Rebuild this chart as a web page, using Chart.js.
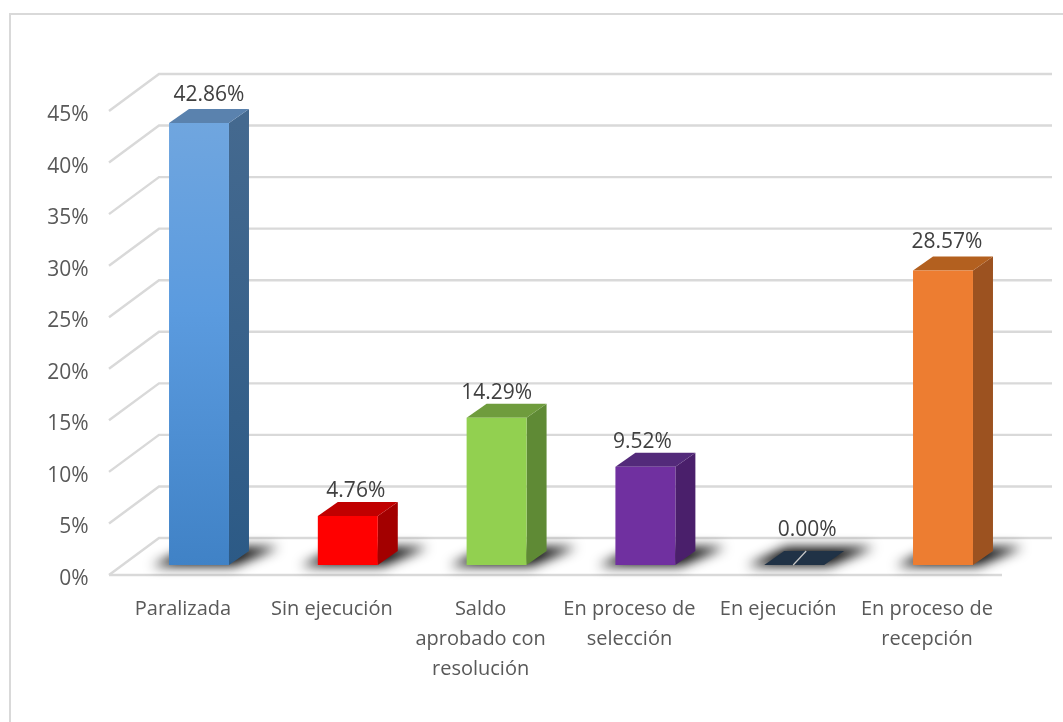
<!DOCTYPE html>
<html><head><meta charset="utf-8">
<style>html,body{margin:0;padding:0;background:#fff}canvas{display:block}</style>
<script src="https://cdn.jsdelivr.net/npm/chart.js@4"></script>
</head><body><canvas id="c" width="1063" height="722"></canvas>
<script>
const categories = ["Paralizada","Sin ejecución",["Saldo","aprobado con","resolución"],["En proceso de","selección"],"En ejecución",["En proceso de","recepción"]];
const values = [42.86,4.76,14.29,9.52,0.00,28.57];
const valueLabels = ["42.86%","4.76%","14.29%","9.52%","0.00%","28.57%"];
const frontTop = ["#72a7df","#ff0000","#92d050","#7030a0","#203246","#ed7d31"];
const frontMid = ["#5b9bdf","#ff0000","#92d050","#7030a0","#203246","#ed7d31"];
const frontBottom = ["#4082c6","#ff0000","#92d050","#7030a0","#203246","#ed7d31"];
const sideTop = ["#44698f","#a30000","#5f8a35","#4a1f6b","#203246","#9c5220"];
const sideBottom = ["#2c5a86","#a30000","#5f8a35","#4a1f6b","#203246","#9c5220"];
const topColors = ["#5a82ae","#c00000","#6f9c3d","#532a7a","#203246","#b3601f"];
const labelNudgeX = [0,-2,-10,-13,3,-6];
const labelNudgeY = [-3,0,0,0,-10,-3];

const FONT = '"Open Sans", sans-serif';
const DX = 20, DY = 14;
const WALL_DX = 50, WALL_UP = 27, WALL_DOWN = 10;
const GRID = "#d9d9d9";

const scene = {
  id:"scene",
  beforeDraw(ch){
    const c = ch.ctx, ca = ch.chartArea, y = ch.scales.y;
    c.save();
    c.fillStyle="#fff"; c.fillRect(0,0,ch.width,ch.height);
    c.strokeStyle="#d9d9d9"; c.lineWidth=2;
    c.beginPath(); c.moveTo(10,722); c.lineTo(10,14); c.lineTo(1063,14); c.stroke();
    c.lineWidth=2.4; c.strokeStyle=GRID;
    const xl = ca.left-15.6, xr = xl+893;
    y.ticks.forEach(t=>{
      const p = y.getPixelForValue(t.value);
      c.beginPath();
      c.moveTo(xl,p+WALL_DOWN);
      c.lineTo(xl+WALL_DX,p-WALL_UP);
      c.lineTo(xr+WALL_DX,p-WALL_UP);
      c.stroke();
    });
    const p0 = y.getPixelForValue(0);
    c.beginPath(); c.moveTo(xl,p0+WALL_DOWN); c.lineTo(xr,p0+WALL_DOWN); c.stroke();
    // floor shadows
    const meta = ch.getDatasetMeta(0);
    meta.data.forEach(b=>{
      const l=b.x-b.width/2, r=b.x+b.width/2;
      c.save();
      c.filter="blur(6px)";
      c.fillStyle="rgba(10,10,10,1)";
      c.beginPath();
      c.moveTo(l-17,p0+1); c.lineTo(r+5,p0+1); c.lineTo(r+50,p0-18); c.lineTo(l+22,p0-18);
      c.closePath(); c.fill();
      c.restore();
    });
    c.restore();
  },
  beforeDatasetsDraw(ch){
    const c = ch.ctx, meta = ch.getDatasetMeta(0);
    c.save();
    meta.data.forEach((b,i)=>{
      const l=b.x-b.width/2, r=b.x+b.width/2, t=b.y, bot=b.base;
      if(values[i]>0){
        const g=c.createLinearGradient(0,t,0,bot);
        g.addColorStop(0,sideTop[i]); g.addColorStop(1,sideBottom[i]);
        c.fillStyle=g;
        c.beginPath(); c.moveTo(r,t); c.lineTo(r+DX,t-DY); c.lineTo(r+DX,bot-DY); c.lineTo(r,bot); c.closePath(); c.fill();
      }
      c.fillStyle=topColors[i];
      c.beginPath(); c.moveTo(l,t); c.lineTo(l+DX,t-DY); c.lineTo(r+DX,t-DY); c.lineTo(r,t); c.closePath(); c.fill();
      if(values[i]===0){
        c.strokeStyle="#c9c9c9"; c.lineWidth=1.2;
        c.beginPath(); c.moveTo(b.x-1,t); c.lineTo(b.x+12,t-DY); c.stroke();
      }
    });
    c.restore();
  },
  afterDatasetsDraw(ch){
    const c = ch.ctx, meta = ch.getDatasetMeta(0);
    c.save();
    c.font = "21px "+FONT; c.fillStyle="#404040"; c.textAlign="center"; c.textBaseline="middle";
    meta.data.forEach((b,i)=>{
      c.fillText(valueLabels[i], b.x+10+labelNudgeX[i], b.y-25+labelNudgeY[i]);
    });
    c.restore();
  }
};

new Chart(document.getElementById("c"),{
  type:"bar",
  data:{labels:categories,datasets:[{
    data:values,
    barPercentage:0.403,categoryPercentage:1,
    backgroundColor(ctx){
      const a=ctx.chart.chartArea; if(!a) return frontTop[ctx.dataIndex];
      const el=ctx.chart.getDatasetMeta(0).data[ctx.dataIndex];
      const top=el&&el.y?el.y:a.top, bot=ctx.chart.scales.y.getPixelForValue(0);
      const g=ctx.chart.ctx.createLinearGradient(0,top,0,bot);
      g.addColorStop(0,frontTop[ctx.dataIndex]);
      g.addColorStop(0.45,frontMid[ctx.dataIndex]);
      g.addColorStop(1,frontBottom[ctx.dataIndex]);
      return g;
    }
  }]},
  options:{
    responsive:false,animation:false,
    layout:{padding:{top:101,left:0,right:45.6,bottom:0}},
    plugins:{legend:{display:false},title:{display:false},tooltip:{enabled:false}},
    scales:{
      x:{
        grid:{display:false},border:{display:false},
        afterFit(s){s.height=157;},
        ticks:{color:"#595959",font:{family:FONT,size:20,lineHeight:1.5},padding:21,labelOffset:-16,maxRotation:0,autoSkip:false}
      },
      y:{
        min:0,max:45,
        grid:{display:false},border:{display:false},
        afterFit(s){s.width=124.6;},
        ticks:{stepSize:5,color:"#595959",font:{family:FONT,size:21},padding:28,labelOffset:14,callback:v=>v+"%"}
      }
    }
  },
  plugins:[scene]
});
</script></body></html>
